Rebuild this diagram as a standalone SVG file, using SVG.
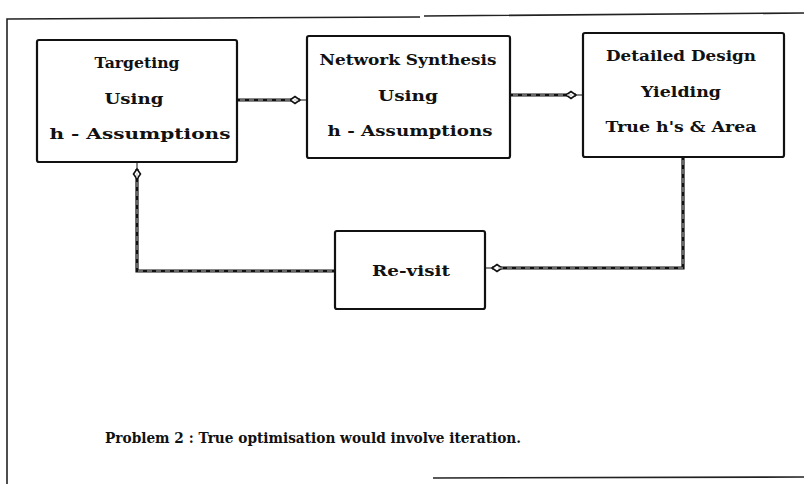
<svg xmlns="http://www.w3.org/2000/svg" width="804" height="484" viewBox="0 0 804 484">
  <style>
    .box { fill: #ffffff; stroke: #111; stroke-width: 2.2; }
    .lbl { font-family: "DejaVu Serif", "Liberation Serif", serif; font-weight: bold; font-size: 15px; fill: #111; text-anchor: middle; }
    .cap { font-family: "DejaVu Serif", "Liberation Serif", serif; font-weight: bold; font-size: 14px; fill: #111; text-anchor: middle; }
    .frame { fill: none; stroke: #222; stroke-width: 1.6; }
    .conn { fill: none; stroke: #111; stroke-width: 3.2; }
    .connhi { fill: none; stroke: #bbb; stroke-width: 1; stroke-dasharray: 5 4; }
  </style>
  <defs>
    <marker id="head" viewBox="0 0 12 10" refX="11" refY="5" markerWidth="12" markerHeight="10" markerUnits="userSpaceOnUse" orient="auto">
      <path d="M1,5 L6,1.5 L11,5 L6,8.5 Z" fill="#fff" stroke="#111" stroke-width="1.6"/>
    </marker>
  </defs>
  <rect width="804" height="484" fill="#ffffff"/>

  <g id="frame">
    <path class="frame" d="M7,484 L7,19 L420,17 M424,16 L804,13"/>
    <path class="frame" d="M433,478 L804,477"/>
  </g>

  <g id="connectors">
    <path class="conn" d="M237,100 L300,100" marker-end="url(#head)"/>
    <path class="conn" d="M510,95 L576,95" marker-end="url(#head)"/>
    <path class="conn" d="M683,157 L683,268 L492,268" marker-end="url(#head)"/>
    <path class="conn" d="M335,271 L137,271 L137,169" marker-end="url(#head)"/>
    <path class="connhi" d="M240,100 L298,100 M513,95 L574,95 M683,160 L683,268 L494,268 M332,271 L137,271 L137,172"/>
    <path d="M300,100 L307,100 M576,95 L583,95 M492,268 L485,268 M137,169 L137,162" stroke="#111" stroke-width="1" fill="none"/>
  </g>

  <g id="node-targeting">
    <rect class="box" x="37" y="40" width="200" height="122" rx="2"/>
    <text class="lbl" x="137" y="68" textLength="85" lengthAdjust="spacingAndGlyphs">Targeting</text>
    <text class="lbl" x="134" y="104" textLength="59" lengthAdjust="spacingAndGlyphs">Using</text>
    <text class="lbl" x="140" y="139" textLength="181" lengthAdjust="spacingAndGlyphs">h - Assumptions</text>
  </g>

  <g id="node-synthesis">
    <rect class="box" x="307" y="36" width="203" height="122" rx="2"/>
    <text class="lbl" x="408" y="65" textLength="177" lengthAdjust="spacingAndGlyphs">Network Synthesis</text>
    <text class="lbl" x="408" y="101" textLength="60" lengthAdjust="spacingAndGlyphs">Using</text>
    <text class="lbl" x="410" y="136" textLength="165" lengthAdjust="spacingAndGlyphs">h - Assumptions</text>
  </g>

  <g id="node-detailed">
    <rect class="box" x="583" y="33" width="201" height="124" rx="2"/>
    <text class="lbl" x="681" y="61" textLength="150" lengthAdjust="spacingAndGlyphs">Detailed Design</text>
    <text class="lbl" x="681" y="97" textLength="80" lengthAdjust="spacingAndGlyphs">Yielding</text>
    <text class="lbl" x="681" y="132" textLength="151" lengthAdjust="spacingAndGlyphs">True h's &amp; Area</text>
  </g>

  <g id="node-revisit">
    <rect class="box" x="335" y="231" width="150" height="78" rx="2"/>
    <text class="lbl" x="411" y="276" textLength="78" lengthAdjust="spacingAndGlyphs">Re-visit</text>
  </g>

  <g id="caption">
    <text class="cap" x="313" y="443" textLength="416" lengthAdjust="spacingAndGlyphs">Problem 2 : True optimisation would involve iteration.</text>
  </g>
</svg>
